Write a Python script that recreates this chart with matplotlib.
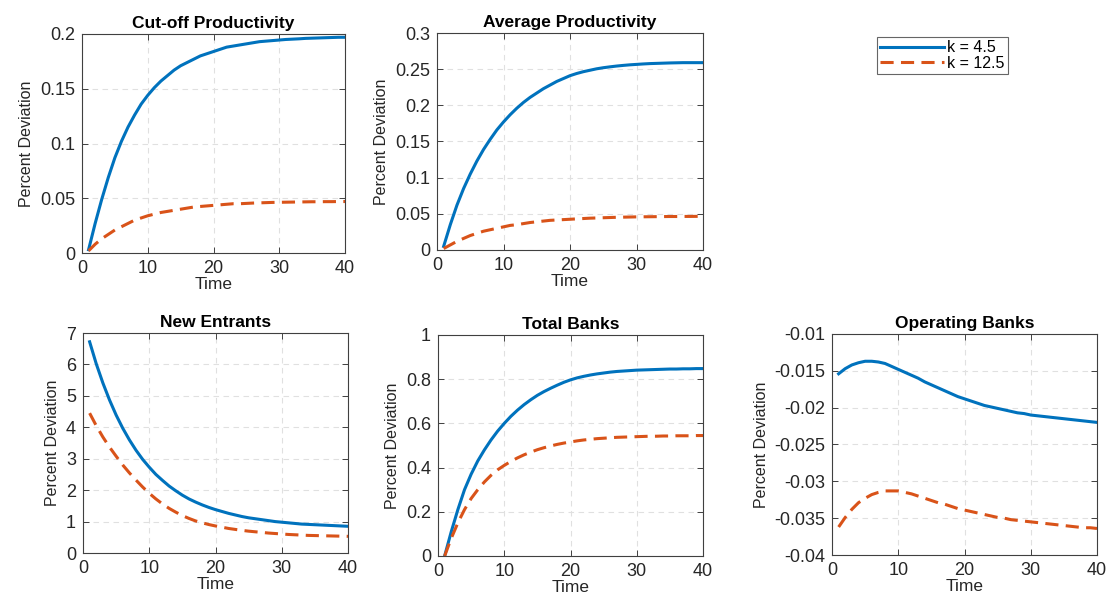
import numpy as np
import matplotlib
matplotlib.use("Agg")
import matplotlib.pyplot as plt
from matplotlib.ticker import FuncFormatter, MultipleLocator

plt.rcParams['font.family'] = ['Liberation Sans', 'DejaVu Sans']

# Periods
t = np.arange(1, 41)

# Cut-off productivity
cutoff_k45 = [0.003, 0.027, 0.049, 0.069, 0.087, 0.102, 0.115, 0.126, 0.136, 0.144,
              0.151, 0.157, 0.162, 0.167, 0.171, 0.174, 0.177, 0.180, 0.182, 0.184,
              0.186, 0.188, 0.189, 0.190, 0.191, 0.192, 0.193, 0.1935, 0.194, 0.1945,
              0.195, 0.1953, 0.1956, 0.196, 0.1962, 0.1964, 0.1966, 0.1968, 0.197, 0.197]
cutoff_k125 = [0.002, 0.008, 0.013, 0.017, 0.021, 0.024, 0.027, 0.030, 0.032, 0.034,
               0.0355, 0.037, 0.038, 0.039, 0.040, 0.041, 0.042, 0.0425, 0.043, 0.0435,
               0.044, 0.0445, 0.045, 0.045, 0.0453, 0.0456, 0.0458, 0.046, 0.0462, 0.0463,
               0.0464, 0.0465, 0.0466, 0.0467, 0.0468, 0.0468, 0.0469, 0.0469, 0.047, 0.047]

# Average productivity
avg_k45 = [0.005, 0.035, 0.062, 0.085, 0.105, 0.123, 0.139, 0.153, 0.166, 0.177,
           0.187, 0.196, 0.204, 0.211, 0.217, 0.223, 0.228, 0.233, 0.237, 0.241,
           0.244, 0.2465, 0.2485, 0.2505, 0.252, 0.2532, 0.2543, 0.2552, 0.256, 0.2566,
           0.2572, 0.2577, 0.258, 0.2583, 0.2586, 0.2588, 0.259, 0.259, 0.259, 0.259]
avg_k125 = [0.002, 0.007, 0.012, 0.016, 0.020, 0.023, 0.026, 0.028, 0.030, 0.032,
            0.034, 0.035, 0.0365, 0.038, 0.039, 0.040, 0.041, 0.0415, 0.042, 0.0425,
            0.043, 0.0435, 0.044, 0.0443, 0.0446, 0.0449, 0.0452, 0.0454, 0.0456, 0.0458,
            0.0459, 0.046, 0.0461, 0.0462, 0.0463, 0.0463, 0.0464, 0.0464, 0.0465, 0.0465]

# New entrants
entr_k45 = [6.72, 6.02, 5.41, 4.87, 4.39, 3.97, 3.60, 3.27, 2.98, 2.73,
            2.50, 2.31, 2.13, 1.98, 1.84, 1.72, 1.62, 1.53, 1.45, 1.38,
            1.32, 1.26, 1.21, 1.16, 1.12, 1.09, 1.06, 1.03, 1.00, 0.98,
            0.96, 0.94, 0.92, 0.91, 0.90, 0.89, 0.88, 0.87, 0.86, 0.85]
entr_k125 = [4.45, 4.05, 3.69, 3.37, 3.08, 2.80, 2.55, 2.32, 2.10, 1.90,
             1.72, 1.56, 1.42, 1.30, 1.19, 1.10, 1.02, 0.96, 0.905, 0.86,
             0.82, 0.78, 0.75, 0.72, 0.695, 0.675, 0.655, 0.635, 0.62, 0.605,
             0.59, 0.58, 0.57, 0.56, 0.555, 0.55, 0.545, 0.54, 0.535, 0.53]

# Total banks
total_k45 = [0.00, 0.11, 0.21, 0.30, 0.37, 0.43, 0.48, 0.525, 0.565, 0.60,
             0.632, 0.66, 0.685, 0.707, 0.727, 0.744, 0.759, 0.773, 0.786, 0.797,
             0.806, 0.813, 0.819, 0.824, 0.828, 0.832, 0.835, 0.837, 0.839, 0.841,
             0.842, 0.843, 0.844, 0.845, 0.846, 0.846, 0.847, 0.847, 0.848, 0.848]
total_k125 = [0.00, 0.08, 0.15, 0.21, 0.26, 0.30, 0.335, 0.365, 0.39, 0.41,
              0.428, 0.444, 0.458, 0.47, 0.481, 0.49, 0.498, 0.505, 0.511, 0.516,
              0.521, 0.525, 0.528, 0.531, 0.533, 0.535, 0.537, 0.538, 0.539, 0.540,
              0.541, 0.542, 0.542, 0.543, 0.543, 0.544, 0.544, 0.544, 0.545, 0.545]

# Operating banks
oper_k45 = [-0.0154, -0.0147, -0.0142, -0.0139, -0.0137, -0.0137, -0.0138, -0.0140, -0.0144, -0.0148,
            -0.0152, -0.0156, -0.0160, -0.0165, -0.0169, -0.0173, -0.0177, -0.0181, -0.0185, -0.0188,
            -0.0191, -0.0194, -0.0197, -0.0199, -0.0201, -0.0203, -0.0205, -0.0207, -0.0208, -0.0210,
            -0.0211, -0.0212, -0.0213, -0.0214, -0.0215, -0.0216, -0.0217, -0.0218, -0.0219, -0.0220]
oper_k125 = [-0.0362, -0.0349, -0.0338, -0.0329, -0.0323, -0.0318, -0.0315, -0.0313, -0.0313, -0.0313,
             -0.0315, -0.0317, -0.0320, -0.0323, -0.0326, -0.0329, -0.0331, -0.0334, -0.0337, -0.0339,
             -0.0341, -0.0343, -0.0345, -0.0347, -0.0349, -0.0350, -0.0352, -0.0353, -0.0354, -0.0355,
             -0.0356, -0.0357, -0.0358, -0.0359, -0.0360, -0.0361, -0.0362, -0.0363, -0.0363, -0.0364]

panels = [
    ("Cut-off Productivity", cutoff_k45, cutoff_k125, (0, 0.2), 0.05),
    ("Average Productivity", avg_k45, avg_k125, (0, 0.3), 0.05),
    ("New Entrants", entr_k45, entr_k125, (0, 7), 1),
    ("Total Banks", total_k45, total_k125, (0, 1), 0.2),
    ("Operating Banks", oper_k45, oper_k125, (-0.04, -0.01), 0.005),
]

# axes boxes in pixels: left, right, top, bottom
W, H = 1109, 596
boxes = [(82, 345, 34, 253), (437, 703, 33, 250),
         (83, 348, 333, 553), (438, 703, 335, 556), (832, 1097, 334, 555)]

blue = "#0072BD"
red = "#D95319"
txt = "#262626"

fig = plt.figure(figsize=(W / 100, H / 100), dpi=100)

for (title, y1, y2, ylim, step), (l, r, tp, b) in zip(panels, boxes):
    ax = fig.add_axes([l / W, 1 - b / H, (r - l) / W, (b - tp) / H])
    ax.plot(t, y1, color=blue, lw=2.2, label="k = 4.5")
    ax.plot(t, y2, color=red, lw=2.2, ls=(0, (4.3, 2.4)), label="k = 12.5")
    ax.set_xlim(0, 40)
    ax.set_ylim(*ylim)
    ax.xaxis.set_major_locator(MultipleLocator(10))
    ax.yaxis.set_major_locator(MultipleLocator(step))
    ax.yaxis.set_major_formatter(FuncFormatter(lambda v, p: "%g" % round(v, 4)))
    ax.grid(True, color="#e0e0e0", ls=(0, (5, 4)), lw=0.8)
    ax.set_axisbelow(True)
    ax.tick_params(direction="in", top=True, right=True, labelsize=13,
                   colors=txt, length=4, width=0.6, pad=5)
    for s in ax.spines.values():
        s.set_color("#404040")
        s.set_linewidth(0.8)
    ax.set_title(title, fontsize=12.5, fontweight="bold", pad=4)
    ax.set_xlabel("Time", fontsize=12.5, color=txt, labelpad=0)
    ax.set_ylabel("Percent Deviation", fontsize=11.5, color=txt, labelpad=4)

handles, labels = ax.get_legend_handles_labels()
leg = fig.legend(handles, labels, loc="upper left",
                 bbox_to_anchor=(877 / W, 1 - 37 / H), fontsize=11.5,
                 frameon=True, fancybox=False, handlelength=4.0,
                 handletextpad=0.2, borderpad=0.2, labelspacing=0.05,
                 borderaxespad=0)
leg.get_frame().set_edgecolor("#404040")
leg.get_frame().set_linewidth(0.8)

fig.savefig("out.png", dpi=100)
